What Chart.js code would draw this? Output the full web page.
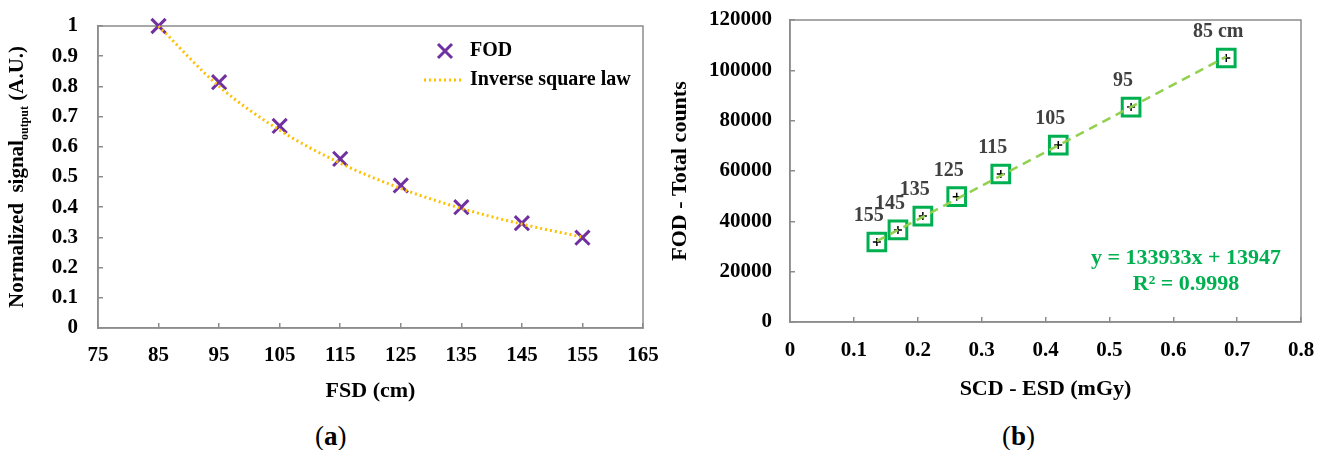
<!DOCTYPE html>
<html>
<head>
<meta charset="utf-8">
<script src="https://cdn.jsdelivr.net/npm/chart.js@4.4.0/dist/chart.umd.min.js"></script>
<style>
  body { margin: 0; background: #fff; width: 1328px; height: 450px; position: relative; overflow: hidden; font-family: "Liberation Serif", "Times New Roman", serif; }
  #wrapA { position: absolute; left: 0; top: 0; width: 660px; height: 410px; }
  #wrapB { position: absolute; left: 660px; top: 0; width: 668px; height: 410px; }
  .cap { position: absolute; top: 421px; font-size: 27px; line-height: 30px; color: #000; }
</style>
</head>
<body>
<div id="wrapA"><canvas id="chartA"></canvas></div>
<div id="wrapB"><canvas id="chartB"></canvas></div>
<div class="cap" style="left:315px">(<b>a</b>)</div>
<div class="cap" style="left:1002px">(<b>b</b>)</div>
<script>
// (a) normalized signal vs source distance
const fsd = [85, 95, 105, 115, 125, 135, 145, 155];
const fodSignal = [1.0, 0.814, 0.669, 0.56, 0.472, 0.4, 0.347, 0.299];
const inverseSquare = [1.0, 0.80, 0.655, 0.546, 0.462, 0.396, 0.344, 0.301];

// (b) FOD counts vs SCD dose
const distLabels = ['155', '145', '135', '125', '115', '105', '95', '85 cm'];
const esdDose = [0.136, 0.169, 0.208, 0.261, 0.330, 0.420, 0.534, 0.683];
const fodCounts = [31800, 36600, 42100, 49800, 58800, 70300, 85400, 104900];
const trendX = [0.136, 0.683];
const trendY = [32150, 105420];
const fitText = ['y = 133933x + 13947', 'R\u00B2 = 0.9998'];

const FONT = '"Liberation Serif", "Times New Roman", serif';
const AXIS_GRAY = '#8c8c8c';

Chart.defaults.font.family = FONT;
Chart.defaults.font.weight = 'bold';
Chart.defaults.color = '#000';

const boxPlugin = {
  id: 'box',
  beforeDatasetsDraw(chart) {
    const a = chart.chartArea, c = chart.ctx;
    c.save();
    c.strokeStyle = AXIS_GRAY;
    c.lineWidth = 1.5;
    c.strokeRect(a.left, a.top, a.right - a.left, a.bottom - a.top);
    c.restore();
  }
};

function axisGrid() {
  return { drawOnChartArea: false, drawTicks: true, tickLength: -5, color: AXIS_GRAY, lineWidth: 1.5 };
}

// keep the chart area exactly where the layout padding says
function noOverflow(s) {
  s.paddingTop = 0; s.paddingBottom = 0; s.paddingLeft = 0; s.paddingRight = 0;
}

// ---------- chart (a) ----------
const legendA = {
  id: 'legendA',
  afterDraw(chart) {
    const a = chart.chartArea, c = chart.ctx;
    const mx = a.left + 347, my = a.top + 25;
    c.save();
    c.strokeStyle = '#7030A0';
    c.lineWidth = 3;
    c.beginPath();
    c.moveTo(mx - 7, my - 7); c.lineTo(mx + 7, my + 7);
    c.moveTo(mx + 7, my - 7); c.lineTo(mx - 7, my + 7);
    c.stroke();
    c.strokeStyle = '#FFC000';
    c.setLineDash([2, 3]);
    c.beginPath();
    c.moveTo(a.left + 326, a.top + 54); c.lineTo(a.left + 366, a.top + 54);
    c.stroke();
    c.setLineDash([]);
    c.fillStyle = '#000';
    c.font = 'bold 20px ' + FONT;
    c.textBaseline = 'middle';
    c.fillText('FOD', a.left + 372, my);
    c.fillText('Inverse square law', a.left + 372, a.top + 54);
    c.restore();
  }
};

const yTitleA = {
  id: 'yTitleA',
  afterDraw(chart) {
    const c = chart.ctx, a = chart.chartArea;
    const big = 'bold 21px ' + FONT, small = 'bold 12px ' + FONT;
    const p1 = 'Normalized  signal', p2 = 'output', p3 = ' (A.U.)';
    c.save();
    c.font = big; const w1 = c.measureText(p1).width, w3 = c.measureText(p3).width;
    c.font = small; const w2 = c.measureText(p2).width;
    const W = w1 + w2 + w3;
    c.translate(18, (a.top + a.bottom) / 2);
    c.rotate(-Math.PI / 2);
    c.textBaseline = 'middle';
    c.fillStyle = '#000';
    c.font = big; c.fillText(p1, -W / 2, 0);
    c.font = small; c.fillText(p2, -W / 2 + w1, 7);
    c.font = big; c.fillText(p3, -W / 2 + w1 + w2, 0);
    c.restore();
  }
};

new Chart(document.getElementById('chartA'), {
  type: 'scatter',
  data: {
    datasets: [
      {
        label: 'Inverse square law',
        data: fsd.map((x, i) => ({ x: x, y: inverseSquare[i] })),
        showLine: true,
        borderColor: '#FFC000',
        borderWidth: 3,
        borderDash: [2, 3],
        cubicInterpolationMode: 'monotone',
        pointRadius: 0,
        clip: false
      },
      {
        label: 'FOD',
        data: fsd.map((x, i) => ({ x: x, y: fodSignal[i] })),
        pointStyle: 'crossRot',
        pointRadius: 10,
        borderColor: '#7030A0',
        backgroundColor: '#7030A0',
        borderWidth: 3,
        clip: false
      }
    ]
  },
  options: {
    responsive: true,
    maintainAspectRatio: false,
    animation: false,
    layout: { padding: { top: 26, right: 17, left: 0, bottom: 0 } },
    plugins: { legend: { display: false }, tooltip: { enabled: false } },
    scales: {
      x: {
        type: 'linear', min: 75, max: 165,
        ticks: { stepSize: 10, padding: 20, font: { size: 21 } },
        grid: axisGrid(),
        border: { color: AXIS_GRAY, width: 1.5 },
        title: { display: true, text: 'FSD (cm)', font: { size: 22 }, padding: { top: 0, bottom: 5 } },
        afterFit(s) { s.height = 82; noOverflow(s); }
      },
      y: {
        min: 0, max: 1,
        ticks: { stepSize: 0.1, padding: 25, font: { size: 21 }, callback: v => String(Number(v.toFixed(1))) },
        grid: axisGrid(),
        border: { color: AXIS_GRAY, width: 1.5 },
        afterFit(s) { s.width = 98; noOverflow(s); }
      }
    }
  },
  plugins: [boxPlugin, legendA, yTitleA]
});

// ---------- chart (b) ----------
const pointLabels = {
  id: 'pointLabels',
  afterDatasetsDraw(chart) {
    const meta = chart.getDatasetMeta(1);
    const c = chart.ctx;
    c.save();
    c.font = 'bold 20px ' + FONT;
    c.fillStyle = '#404040';
    c.textAlign = 'center';
    c.textBaseline = 'middle';
    meta.data.forEach((pt, i) => {
      c.fillText(distLabels[i], pt.x - 8, pt.y - 26);
    });
    c.restore();
  }
};

const fitLabel = {
  id: 'fitLabel',
  afterDraw(chart) {
    const a = chart.chartArea, c = chart.ctx;
    c.save();
    c.font = 'bold 22px ' + FONT;
    c.fillStyle = '#00B050';
    c.textAlign = 'center';
    c.textBaseline = 'middle';
    c.fillText(fitText[0], a.left + 396, a.top + 238);
    c.fillText(fitText[1], a.left + 396, a.top + 264);
    c.restore();
  }
};

new Chart(document.getElementById('chartB'), {
  type: 'scatter',
  data: {
    datasets: [
      {
        label: 'Trend',
        data: trendX.map((x, i) => ({ x: x, y: trendY[i] })),
        showLine: true,
        borderColor: '#92D050',
        borderWidth: 2.5,
        borderDash: [9, 6],
        pointRadius: 0
      },
      {
        label: 'FOD',
        data: esdDose.map((x, i) => ({ x: x, y: fodCounts[i] })),
        pointStyle: 'rect',
        pointRadius: 12.5,
        borderColor: '#00B050',
        backgroundColor: 'rgba(0,0,0,0)',
        borderWidth: 3,
        clip: false
      },
      {
        label: 'FOD centre',
        data: esdDose.map((x, i) => ({ x: x, y: fodCounts[i] })),
        pointStyle: 'cross',
        pointRadius: 4,
        borderColor: '#000',
        borderWidth: 1.5,
        clip: false
      }
    ]
  },
  options: {
    responsive: true,
    maintainAspectRatio: false,
    animation: false,
    layout: { padding: { top: 20, right: 27, left: 0, bottom: 0 } },
    plugins: { legend: { display: false }, tooltip: { enabled: false } },
    scales: {
      x: {
        type: 'linear', min: 0, max: 0.8,
        ticks: { stepSize: 0.1, padding: 21, font: { size: 21 } },
        grid: axisGrid(),
        border: { color: AXIS_GRAY, width: 1.5 },
        title: { display: true, text: 'SCD - ESD (mGy)', font: { size: 22 }, padding: { top: 0, bottom: 7 } },
        afterFit(s) { s.height = 88; noOverflow(s); }
      },
      y: {
        min: 0, max: 120000,
        ticks: { stepSize: 20000, padding: 23, font: { size: 21 }, callback: v => String(v) },
        grid: axisGrid(),
        border: { color: AXIS_GRAY, width: 1.5 },
        title: { display: true, text: 'FOD - Total counts', font: { size: 22 }, padding: { top: 7, bottom: 0 } },
        afterFit(s) { s.width = 130; noOverflow(s); }
      }
    }
  },
  plugins: [boxPlugin, pointLabels, fitLabel]
});
</script>
</body>
</html>
